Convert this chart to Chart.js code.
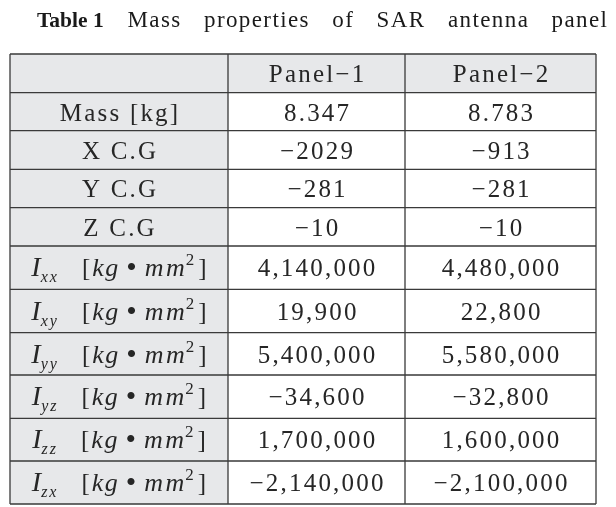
<!DOCTYPE html>
<html lang="en">
<head>
<meta charset="UTF-8">
<title>Table 1 Mass properties of SAR antenna panel</title>
<script src="https://cdn.jsdelivr.net/npm/chart.js"></script>
<style>
    html, body { margin: 0; padding: 0; background: #fff; }
    .wrap { width: 616px; height: 507px; }
</style>
</head>
<body>
<div class="wrap"><canvas id="tbl" width="616" height="507"></canvas></div>
<script>
// table contents
const titleBold = 'Table 1';
const titleWords = ['Mass', 'properties', 'of', 'SAR', 'antenna', 'panel'];
const columns = ['', 'Panel-1', 'Panel-2'];
const rowLabels = ['Mass [kg]', 'X C.G', 'Y C.G', 'Z C.G', 'I_xx', 'I_xy', 'I_yy', 'I_yz', 'I_zz', 'I_zx'];
const panel1 = ['8.347', '-2029', '-281', '-10', '4,140,000', '19,900', '5,400,000', '-34,600', '1,700,000', '-2,140,000'];
const panel2 = ['8.783', '-913', '-281', '-10', '4,480,000', '22,800', '5,580,000', '-32,800', '1,600,000', '-2,100,000'];

// layout (scale units = px inside the chart area)
const colEdges = [0, 218, 395, 586];
const rowEdges = [0, 38.7, 76.7, 115.3, 153.7, 192, 235.3, 278.7, 321, 364.3, 407, 450];

const SERIF = '"Liberation Serif", "Times New Roman", serif';
const CELL_FONT = '25px ' + SERIF;
const CELL_SP = 2.2;
const TEXT = '#262626';
const SHADE = '#e7e8ea';
const RULE = '#3a3a3a';

function spacedWidth(ctx, s, sp) {
    let w = 0;
    for (const ch of s) w += ctx.measureText(ch).width + sp;
    return w - sp;
}
function drawSpaced(ctx, s, x, y, sp) {
    for (const ch of s) {
        ctx.fillText(ch, x, y);
        x += ctx.measureText(ch).width + sp;
    }
}
function centered(ctx, s, cx, y, sp) {
    drawSpaced(ctx, s, cx - spacedWidth(ctx, s, sp) / 2, y, sp);
}

// I_ab [kg • mm^2] built as small runs of text
function inertiaRuns(label) {
    const sub = label.split('_')[1];
    return [
        { t: 'I', f: 'italic 28px ' + SERIF, dy: 0, gap: 0, sp: 0 },
        { t: sub, f: 'italic 16px ' + SERIF, dy: 6, gap: 0, sp: 2 },
        { t: '[', f: '25px ' + SERIF, dy: 0, gap: 25, sp: 0 },
        { t: 'kg', f: 'italic 26px ' + SERIF, dy: 0, gap: 2, sp: 1.5 },
        { t: '\u2022', f: '30px ' + SERIF, dy: 1, gap: 8, sp: 0 },
        { t: 'mm', f: 'italic 26px ' + SERIF, dy: 0, gap: 8, sp: 2.5 },
        { t: '2', f: '17px ' + SERIF, dy: -11, gap: 1, sp: 0 },
        { t: ']', f: '25px ' + SERIF, dy: 0, gap: 4, sp: 0 }
    ];
}
function drawRuns(ctx, runs, cx, y) {
    let total = 0;
    runs.forEach(r => { ctx.font = r.f; r.w = spacedWidth(ctx, r.t, r.sp); total += r.gap + r.w; });
    let x = cx - total / 2;
    runs.forEach(r => {
        x += r.gap;
        ctx.font = r.f;
        drawSpaced(ctx, r.t, x, y + r.dy, r.sp);
        x += r.w;
    });
}

const tablePlugin = {
    id: 'tablePlugin',
    afterDraw(chart) {
        const { ctx, scales: { x, y } } = chart;
        const px = v => x.getPixelForValue(v);
        const py = v => y.getPixelForValue(v);
        const last = rowEdges.length - 1;
        ctx.save();

        // title, spread across the width
        ctx.fillStyle = '#1a1a1a';
        ctx.textBaseline = 'alphabetic';
        const tLeft = 37, tRight = 607, tBase = 27;
        const boldFont = 'bold 21.5px ' + SERIF, normFont = '23px ' + SERIF;
        ctx.font = boldFont;
        const boldW = ctx.measureText(titleBold).width;
        ctx.font = normFont;
        const ws = titleWords.map(w => spacedWidth(ctx, w, 1.4));
        const gap = (tRight - tLeft - boldW - ws.reduce((a, b) => a + b, 0)) / titleWords.length;
        ctx.font = boldFont;
        ctx.fillText(titleBold, tLeft, tBase);
        ctx.font = normFont;
        let tx = tLeft + boldW;
        titleWords.forEach((w, i) => {
            tx += gap;
            drawSpaced(ctx, w, tx, tBase, 1.4);
            tx += ws[i];
        });

        // shaded header row and label column
        ctx.fillStyle = SHADE;
        ctx.fillRect(px(0), py(0), px(colEdges[3]) - px(0), py(rowEdges[1]) - py(0));
        ctx.fillRect(px(0), py(0), px(colEdges[1]) - px(0), py(rowEdges[last]) - py(0));

        // rules
        ctx.strokeStyle = RULE;
        ctx.lineWidth = 1.3;
        ctx.beginPath();
        rowEdges.forEach(r => { ctx.moveTo(px(0), py(r)); ctx.lineTo(px(colEdges[3]), py(r)); });
        colEdges.forEach(c => { ctx.moveTo(px(c), py(0)); ctx.lineTo(px(c), py(rowEdges[last])); });
        ctx.stroke();

        // cell text
        ctx.fillStyle = TEXT;
        const mid = (a, b) => (a + b) / 2;
        const show = s => s.replace(/-/g, '\u2212');
        const baseline = i => py(mid(rowEdges[i], rowEdges[i + 1])) + 8.8;
        const cx = j => px(mid(colEdges[j], colEdges[j + 1]));

        ctx.font = CELL_FONT;
        columns.forEach((c, j) => { if (c) centered(ctx, show(c), cx(j), baseline(0), CELL_SP); });

        rowLabels.forEach((lab, i) => {
            const yb = baseline(i + 1);
            if (lab.startsWith('I_')) drawRuns(ctx, inertiaRuns(lab), cx(0), yb);
            else { ctx.font = CELL_FONT; centered(ctx, lab, cx(0), yb, CELL_SP); }
            ctx.font = CELL_FONT;
            centered(ctx, show(panel1[i]), cx(1), yb, CELL_SP);
            centered(ctx, show(panel2[i]), cx(2), yb, CELL_SP);
        });
        ctx.restore();
    }
};

new Chart(document.getElementById('tbl'), {
    type: 'scatter',
    data: { datasets: [{ data: [] }] },
    options: {
        responsive: false,
        animation: false,
        layout: { padding: { left: 10, top: 54, right: 20, bottom: 3 } },
        plugins: { legend: { display: false }, tooltip: { enabled: false } },
        scales: {
            x: { type: 'linear', min: 0, max: colEdges[3], display: false },
            y: { type: 'linear', min: 0, max: rowEdges[rowEdges.length - 1], reverse: true, display: false }
        }
    },
    plugins: [tablePlugin]
});
</script>
</body>
</html>
